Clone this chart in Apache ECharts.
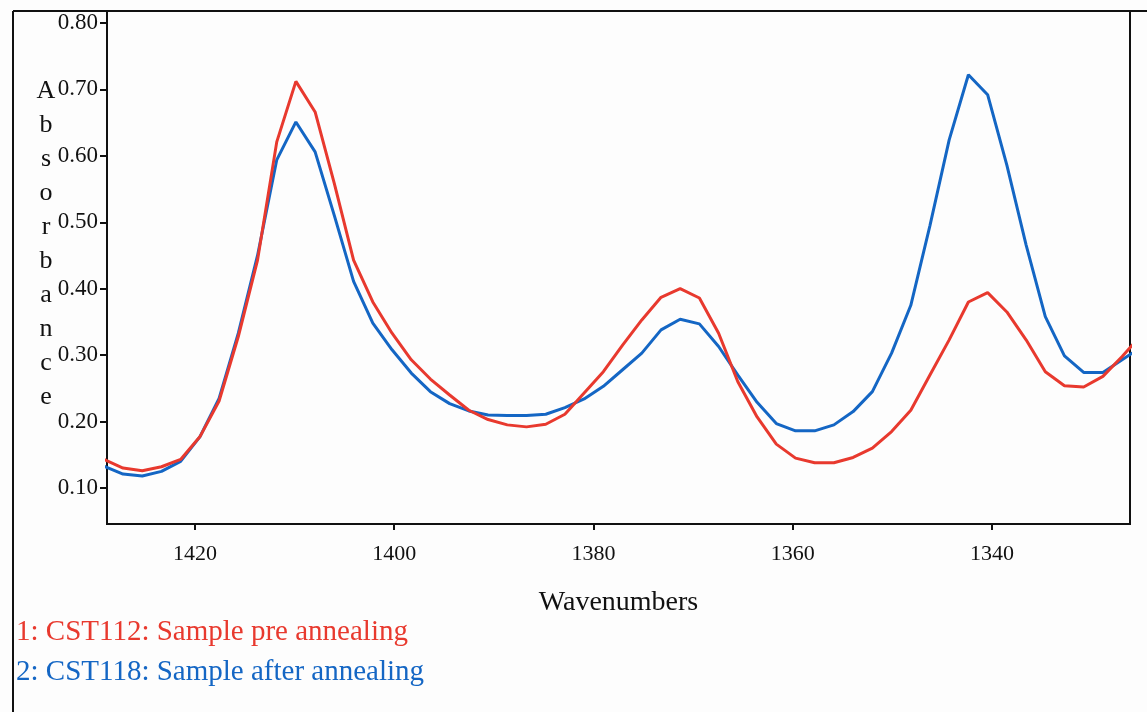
<!DOCTYPE html>
<html>
<head>
<meta charset="utf-8">
<script src="https://cdn.jsdelivr.net/npm/echarts@6/dist/echarts.min.js"></script>
<style>
html,body{margin:0;padding:0;background:#fdfdfd;}
#chart{width:1147px;height:712px;}
</style>
</head>
<body>
<div id="chart"></div>
<script>
// Wavenumbers (cm^-1)
var wavenumbers = [1429.15,1427.22,1425.29,1423.36,1421.44,1419.51,1417.58,1415.65,1413.72,1411.79,
  1409.87,1407.94,1406.01,1404.08,1402.15,1400.22,1398.29,1396.37,1394.44,1392.51,
  1390.58,1388.65,1386.72,1384.79,1382.87,1380.94,1379.01,1377.08,1375.15,1373.22,
  1371.30,1369.37,1367.44,1365.51,1363.58,1361.65,1359.72,1357.80,1355.87,1353.94,
  1352.01,1350.08,1348.15,1346.23,1344.30,1342.37,1340.44,1338.51,1336.58,1334.65,
  1332.73,1330.80,1328.87,1326.94,1325.01];

// 1: CST112 pre annealing
var preAnnealing = [0.143,0.130,0.126,0.132,0.143,0.177,0.231,0.328,0.443,0.621,
  0.712,0.666,0.558,0.443,0.380,0.333,0.293,0.264,0.240,0.217,
  0.203,0.195,0.192,0.196,0.211,0.243,0.275,0.315,0.353,0.387,
  0.400,0.386,0.333,0.260,0.207,0.166,0.145,0.138,0.138,0.146,
  0.160,0.185,0.217,0.270,0.323,0.380,0.394,0.365,0.323,0.275,
  0.254,0.252,0.268,0.298,0.330];

// 2: CST118 after annealing
var afterAnnealing = [0.133,0.121,0.118,0.125,0.140,0.177,0.235,0.333,0.450,0.594,
  0.651,0.606,0.510,0.411,0.348,0.308,0.273,0.245,0.227,0.216,
  0.210,0.209,0.209,0.211,0.221,0.234,0.253,0.278,0.303,0.338,
  0.354,0.347,0.313,0.270,0.229,0.197,0.186,0.186,0.195,0.215,
  0.245,0.303,0.375,0.495,0.624,0.722,0.692,0.586,0.466,0.358,
  0.299,0.274,0.274,0.293,0.312];

var seriesNames = ['1: CST112: Sample pre annealing', '2: CST118: Sample after annealing'];
var xTickValues = [1420, 1400, 1380, 1360, 1340];
var yTickValues = [0.10, 0.20, 0.30, 0.40, 0.50, 0.60, 0.70, 0.80];
var xTitle = 'Wavenumbers';
var yTitle = 'Absorbance';

var RED = '#e8392e';
var BLUE = '#1466c4';
var FONT = 'Liberation Serif';

function pairs(xs, ys) { return xs.map(function (x, i) { return [x, ys[i]]; }); }

var chart = echarts.init(document.getElementById('chart'), null, {renderer: 'canvas'});
chart.setOption({
  animation: false,
  backgroundColor: '#fdfdfd',
  grid: {left: 107, right: 17, top: 11, bottom: 188, show: true, borderColor: '#111', borderWidth: 2, outerBoundsMode: 'none'},
  xAxis: {
    type: 'value', inverse: true, min: 1326.15, max: 1428.83,
    name: xTitle, nameLocation: 'middle', nameGap: 65,
    nameTextStyle: {fontFamily: FONT, fontSize: 28, color: '#111'},
    axisLine: {show: true, lineStyle: {color: '#111', width: 2}},
    axisTick: {show: true, length: 6, lineStyle: {color: '#111', width: 2}, customValues: xTickValues},
    axisLabel: {fontFamily: FONT, fontSize: 22, color: '#111', margin: 19, customValues: xTickValues,
      formatter: function (v) { return String(Math.round(v)); }},
    splitLine: {show: false}
  },
  yAxis: {
    type: 'value', min: 0.0458, max: 0.818,
    axisLine: {show: true, lineStyle: {color: '#111', width: 2}},
    axisTick: {show: true, length: 7, lineStyle: {color: '#111', width: 2}, customValues: yTickValues},
    axisLabel: {fontFamily: FONT, fontSize: 23, color: '#111', margin: 9, customValues: yTickValues,
      formatter: function (v) { return v.toFixed(2); }},
    splitLine: {show: false}
  },
  legend: {
    orient: 'vertical', left: 6, top: 613, icon: 'none', itemWidth: 0, itemGap: 11, selectedMode: false,
    textStyle: {fontFamily: FONT, fontSize: 29},
    data: [
      {name: seriesNames[0], textStyle: {color: RED}},
      {name: seriesNames[1], textStyle: {color: BLUE}}
    ]
  },
  graphic: [
    {type: 'line', shape: {x1: 13, y1: 11, x2: 1147, y2: 11}, style: {stroke: '#111', lineWidth: 2}},
    {type: 'line', shape: {x1: 13, y1: 11, x2: 13, y2: 712}, style: {stroke: '#111', lineWidth: 2}},
    {type: 'text', x: 46, y: 74, style: {text: yTitle.split('').join('\n'), textAlign: 'center', textVerticalAlign: 'top',
      lineHeight: 34, font: '26px "Liberation Serif"', fill: '#111'}}
  ],
  series: [
    {name: seriesNames[0], type: 'line', data: pairs(wavenumbers, preAnnealing), showSymbol: false, clip: true,
      lineStyle: {color: RED, width: 3}, itemStyle: {color: RED}, z: 3},
    {name: seriesNames[1], type: 'line', data: pairs(wavenumbers, afterAnnealing), showSymbol: false, clip: true,
      lineStyle: {color: BLUE, width: 3}, itemStyle: {color: BLUE}, z: 2}
  ]
});
</script>
</body>
</html>
